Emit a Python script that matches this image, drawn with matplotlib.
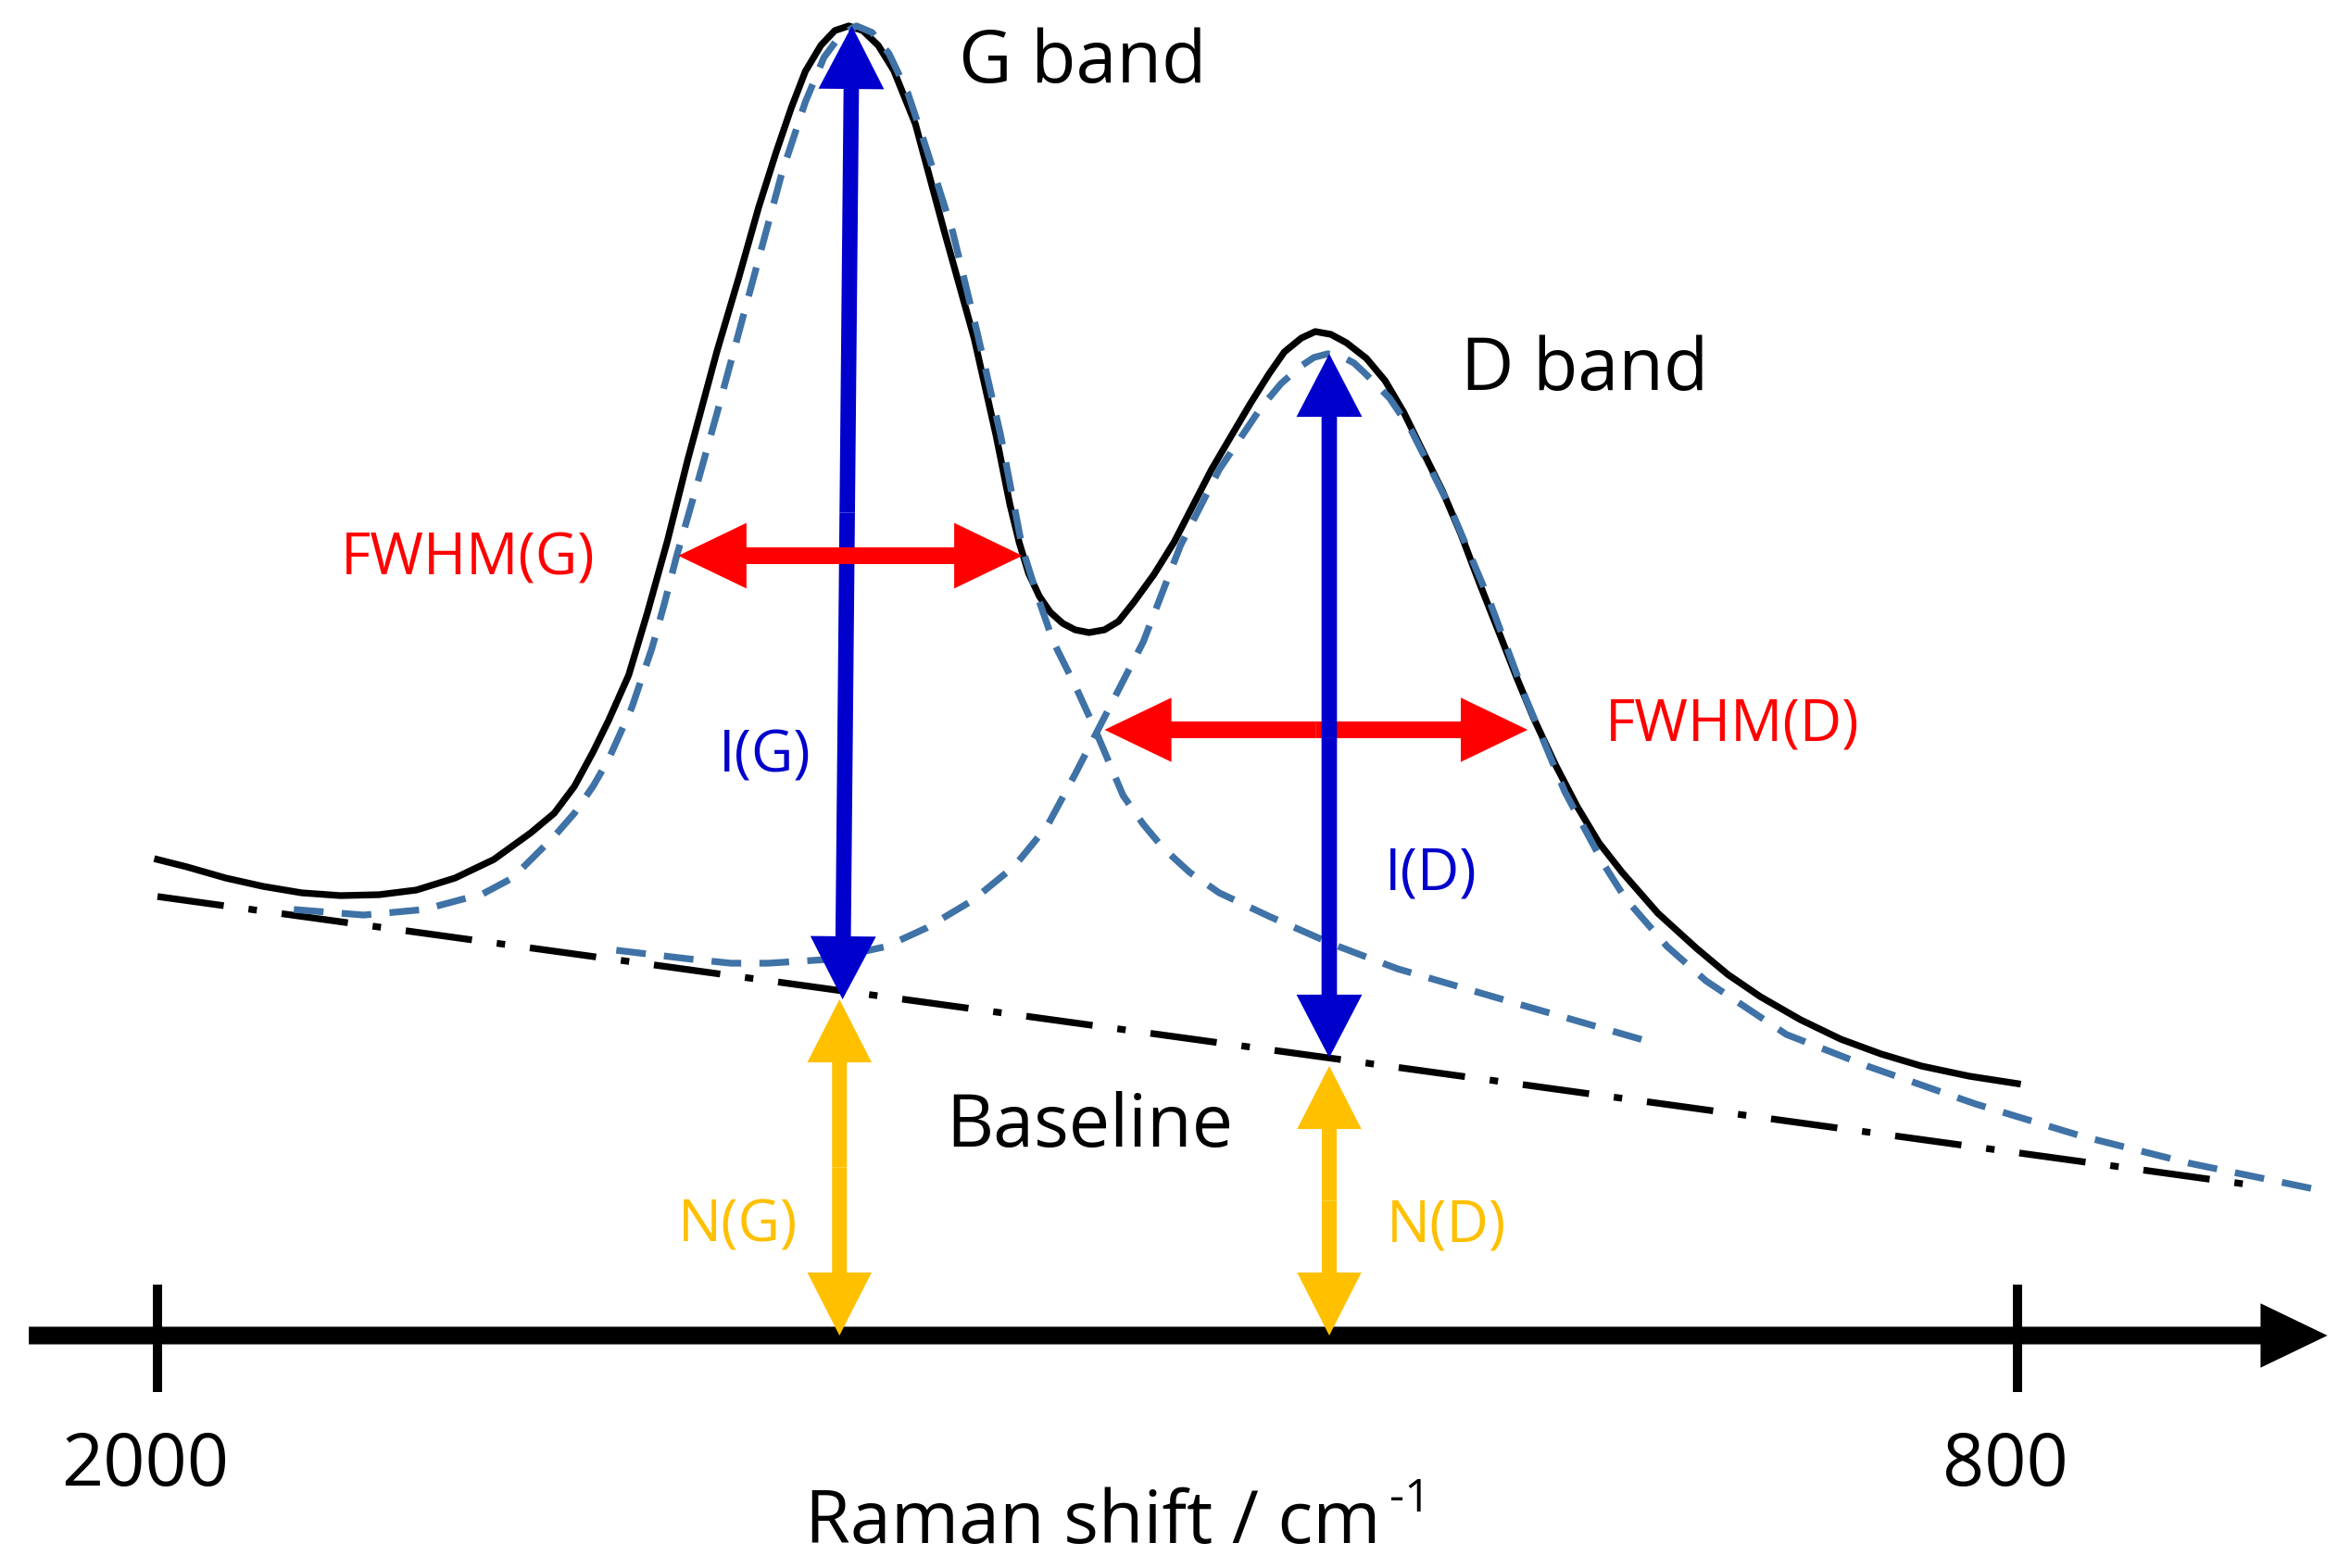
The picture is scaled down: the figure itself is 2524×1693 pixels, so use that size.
import numpy as np
import matplotlib.pyplot as plt
from matplotlib.patches import FancyArrowPatch

plt.rcParams['font.family'] = ['Open Sans', 'DejaVu Sans']

spec_x = [2000, 1981, 1956, 1932, 1907, 1882, 1857, 1833, 1808, 1783, 1759, 1744, 1731,
          1719, 1709, 1696, 1684, 1671, 1658, 1639, 1625, 1612, 1601, 1591, 1582, 1572,
          1563, 1554, 1545, 1535, 1525, 1511, 1493, 1473, 1459, 1450, 1444, 1438, 1431,
          1424, 1416, 1408, 1399, 1389, 1380, 1370, 1357, 1344, 1332, 1320, 1307, 1295, 1283,
          1273, 1262, 1253, 1243, 1233, 1220, 1208, 1196, 1184, 1171, 1159, 1147, 1134,
          1123, 1112, 1098, 1084, 1070, 1055, 1032, 1007, 987, 966, 940, 914, 888, 862,
          831, 800]
spec_y = [51.4, 50.6, 49.4, 48.5, 47.8, 47.5, 47.6, 48.1, 49.4, 51.4, 54.3, 56.4, 59.3,
          63.0, 66.4, 71.3, 78.0, 85.8, 94.5, 106.3, 114.2, 121.9, 127.7, 132.6, 136.5, 139.3,
          140.9, 141.4, 140.9, 139.3, 136.6, 130.8, 119.6, 107.6, 97.2, 89.7, 85.6, 82.3, 79.8,
          78.1, 76.9, 76.2, 75.9, 76.2, 77.1, 79.2, 82.2, 85.7, 89.6, 93.5, 97.2, 100.6, 103.8,
          106.2, 107.7, 108.4, 108.1, 107.2, 105.5, 103.1, 99.7, 95.6, 91.2, 86.5, 81.2, 75.7,
          71.0, 66.6, 61.6, 57.1, 53.2, 50.0, 45.6, 41.8, 39.0, 36.6, 34.1, 32.0, 30.4, 29.1,
          28.0, 27.2]

# fitted G band (dashed)
g_x = [1912, 1867, 1828, 1790, 1771, 1759, 1744, 1731, 1719, 1709, 1694, 1681, 1673,
       1665, 1652, 1639, 1618, 1597, 1582, 1570, 1559, 1549, 1539, 1528, 1516, 1504,
       1487, 1471, 1456, 1442, 1432, 1422, 1408, 1396, 1377, 1364, 1351, 1334, 1315,
       1282, 1241, 1200, 1118, 1037]
g_y = [46.0, 45.4, 46.0, 47.7, 49.4, 51.4, 53.9, 56.4, 59.3, 62.2, 67.8, 74.2, 79.0,
       84.2, 91.8, 99.6, 112.6, 125.6, 133.2, 138.0, 140.5, 141.4, 140.7, 138.4, 134.2, 128.2,
       119.2, 108.2, 97.2, 85.0, 79.7, 74.9, 70.2, 65.8, 58.3, 55.2, 52.6, 50.0, 47.8,
       45.2, 42.2, 39.6, 35.6, 31.7]

# fitted D band (dashed)
d_x = [1704, 1659, 1630, 1606, 1568, 1530, 1504, 1474, 1447, 1426, 1408, 1392, 1364,
       1340, 1315, 1288, 1275, 1262, 1254, 1245, 1236, 1228, 1221, 1205, 1191, 1166,
       1141, 1117, 1092, 1067, 1053, 1026, 1001, 949, 897, 827, 758, 689, 605]
d_y = [41.6, 40.7, 40.2, 40.2, 40.6, 42.0, 44.0, 47.0, 50.7, 55.0, 60.6, 65.8, 74.9,
       85.3, 93.5, 100.2, 102.8, 104.7, 105.6, 106.0, 105.7, 105.0, 103.9, 101.2, 97.7, 89.4,
       79.5, 68.7, 58.7, 50.9, 47.2, 42.0, 38.3, 32.5, 29.1, 25.0, 21.5, 18.6, 15.7]

baseline_x = [2000, 651]
baseline_y = [47.4, 16.3]

# peak centres and measured quantities
g_center, d_center = 1555, 1244
ig_bottom, ig_top = 36.3, 141.4
id_bottom, id_top = 30.0, 106.0
fwhm_g = (1664, 1442, 84.2)
fwhm_d = (1389, 1116, 65.4)

ticks = [2000, 800]
tick_labels = ['2000', '800']

BLUE = '#0000CC'
RED = '#FF0000'
YELLOW = '#FFC000'
DASH = '#3F72A6'

fig = plt.figure(figsize=(25.24, 16.93), dpi=100)
ax = fig.add_axes([0, 0, 1, 1])
ax.set_xlim(2101.6, 593.2)
ax.set_ylim(-25.1, 144.2)
ax.axis('off')

ax.plot(baseline_x, baseline_y, color='black', lw=5.25, dashes=(9.9, 3.7, 1.25, 3.7), zorder=1)
ax.plot(spec_x, spec_y, color='black', lw=5.25, solid_joinstyle='round', zorder=2)
ax.plot(g_x, g_y, color=DASH, lw=5.25, dashes=(4.4, 2.7), zorder=3)
ax.plot(d_x, d_y, color=DASH, lw=5.25, dashes=(4.4, 2.7), zorder=3)


def arrow(p0, p1, color, tail, hl, hw, both=True, z=5):
    style = f'simple,head_length={hl},head_width={hw},tail_width={tail}'
    if both:
        pm = ((p0[0] + p1[0]) / 2, (p0[1] + p1[1]) / 2)
        segs = [(pm, p1), (pm, p0)]
    else:
        segs = [(p0, p1)]
    for a, b in segs:
        ax.add_patch(FancyArrowPatch(a, b, arrowstyle=style, mutation_scale=1,
                                     color=color, lw=0, shrinkA=0, shrinkB=0, zorder=z))


# x axis
arrow((2083, 0), (600, 0), 'black', 13.7, 52, 50, both=False)
for t, lab in zip(ticks, tick_labels):
    ax.plot([t, t], [5.5, -6.1], color='black', lw=7.2, solid_capstyle='butt', zorder=5)
    ax.text(t + 8, -16.2, lab, fontsize=57, ha='center', va='baseline')
ax.text(1582, -22.4, 'Raman shift / cm', fontsize=57, ha='left', va='baseline')
ax.text(1205, -19.0, '-1', fontsize=36, ha='left', va='baseline')

# intensity arrows
arrow((1558, ig_bottom), (1552, ig_top), BLUE, 12, 49, 51, z=5)
arrow((d_center, id_bottom), (d_center, id_top), BLUE, 12, 49, 51, z=7)
# FWHM arrows
arrow((fwhm_g[0], fwhm_g[2]), (fwhm_g[1], fwhm_g[2]), RED, 13, 53, 51, z=6)
arrow((fwhm_d[0], fwhm_d[2]), (fwhm_d[1], fwhm_d[2]), RED, 13, 52, 50, z=6)
# baseline height arrows
arrow((1560, 0), (1560, ig_bottom), YELLOW, 11.5, 49, 50)
arrow((d_center, 0), (d_center, 29.1), YELLOW, 11.5, 49, 50)

# labels
ax.text(1483, 135.3, 'G band', fontsize=57, ha='left', va='baseline')
ax.text(1159, 102.1, 'D band', fontsize=57, ha='left', va='baseline')
ax.text(1491, 20.4, 'Baseline', fontsize=57, ha='left', va='baseline')
ax.text(1882, 82.1, 'FWHM(G)', fontsize=45, color=RED, ha='left', va='baseline')
ax.text(1066, 64.2, 'FWHM(D)', fontsize=45, color=RED, ha='left', va='baseline')
ax.text(1638, 60.8, 'I(G)', fontsize=45, color=BLUE, ha='left', va='baseline')
ax.text(1208, 48.1, 'I(D)', fontsize=45, color=BLUE, ha='left', va='baseline')
ax.text(1664, 10.1, 'N(G)', fontsize=45, color=YELLOW, ha='left', va='baseline')
ax.text(1207, 10.1, 'N(D)', fontsize=45, color=YELLOW, ha='left', va='baseline')

fig.savefig('out.png', dpi=100)
